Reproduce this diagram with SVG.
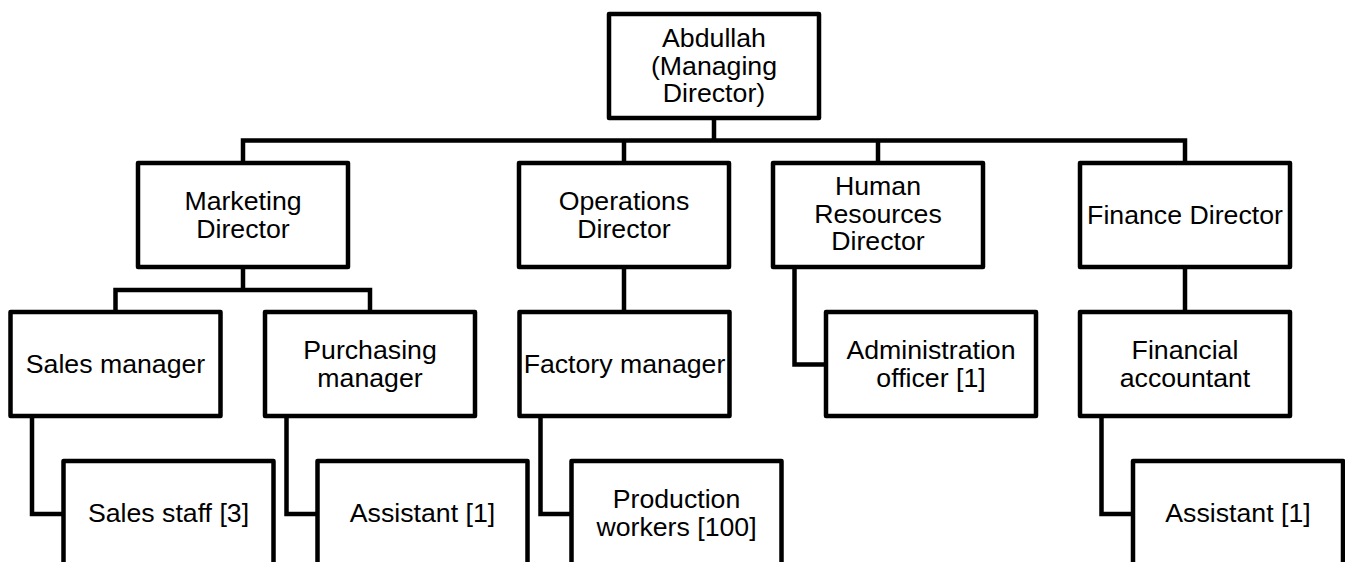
<svg xmlns="http://www.w3.org/2000/svg" width="1345" height="562" viewBox="0 0 1345 562">
<style>
.box{fill:#fff;stroke:#000;stroke-width:4.5;stroke-linejoin:round}
.ln{fill:none;stroke:#000;stroke-width:4.5;stroke-linejoin:miter}
text{font-family:"Liberation Sans",Arial,sans-serif;font-size:26.7px;fill:#000;text-anchor:middle}
</style>
<rect width="1345" height="562" fill="#fff"/>
<g id="connectors">
<path class="ln" d="M714 118V140.5M243 163V140.5H1185V163M624 140.5V163M878 140.5V163"/>
<path class="ln" d="M243 267V290M115.5 312V290H370V312"/>
<path class="ln" d="M624 267V312"/>
<path class="ln" d="M794.5 267V364.5H826"/>
<path class="ln" d="M1185 267V312"/>
<path class="ln" d="M32 416V514H63.5"/>
<path class="ln" d="M286.5 416V514H317.5"/>
<path class="ln" d="M540.5 416V514H571.5"/>
<path class="ln" d="M1101.5 416V514H1133"/>
</g>
<g id="md"><rect class="box" x="609" y="14" width="210" height="104"/><text x="714" y="47">Abdullah</text><text x="714" y="74.5">(Managing</text><text x="714" y="102">Director)</text></g>
<g id="marketing"><rect class="box" x="138" y="163" width="210" height="104"/><text x="243" y="210">Marketing</text><text x="243" y="237.5">Director</text></g>
<g id="operations"><rect class="box" x="519" y="163" width="210" height="104"/><text x="624" y="210">Operations</text><text x="624" y="237.5">Director</text></g>
<g id="hr"><rect class="box" x="773" y="163" width="210" height="104"/><text x="878" y="195">Human</text><text x="878" y="222.5">Resources</text><text x="878" y="250">Director</text></g>
<g id="finance"><rect class="box" x="1080" y="163" width="210" height="104"/><text x="1185" y="224">Finance Director</text></g>
<g id="sales-manager"><rect class="box" x="10.5" y="312" width="210" height="104"/><text x="115.5" y="373">Sales manager</text></g>
<g id="purchasing-manager"><rect class="box" x="265" y="312" width="210" height="104"/><text x="370" y="359">Purchasing</text><text x="370" y="386.5">manager</text></g>
<g id="factory-manager"><rect class="box" x="519.5" y="312" width="210" height="104"/><text x="624.5" y="373">Factory manager</text></g>
<g id="admin-officer"><rect class="box" x="826" y="312" width="210" height="104"/><text x="931" y="359">Administration</text><text x="931" y="386.5">officer [1]</text></g>
<g id="financial-accountant"><rect class="box" x="1080" y="312" width="210" height="104"/><text x="1185" y="359">Financial</text><text x="1185" y="386.5">accountant</text></g>
<g id="sales-staff"><rect class="box" x="63.5" y="461" width="210" height="110"/><text x="168.5" y="522">Sales staff [3]</text></g>
<g id="purchasing-assistant"><rect class="box" x="317.5" y="461" width="210" height="110"/><text x="422.5" y="522">Assistant [1]</text></g>
<g id="production-workers"><rect class="box" x="571.5" y="461" width="210" height="110"/><text x="676.5" y="508">Production</text><text x="676.5" y="535.5">workers [100]</text></g>
<g id="finance-assistant"><rect class="box" x="1133" y="461" width="210" height="110"/><text x="1238" y="522">Assistant [1]</text></g>
</svg>
